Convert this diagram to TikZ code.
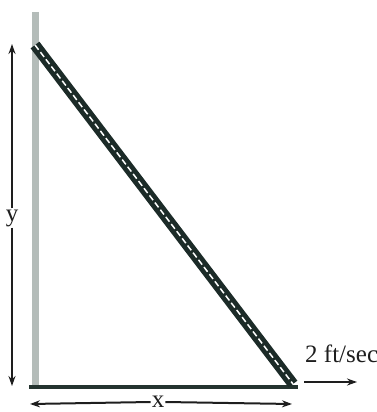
\documentclass[tikz,border=0pt]{standalone}
\usepackage{fontspec}
\setmainfont{Liberation Serif}
\usetikzlibrary{arrows.meta, positioning}
\definecolor{LadderDark}{HTML}{1C2B28}
\definecolor{WallGray}{HTML}{B4BCB9}
\definecolor{GroundDark}{HTML}{24332F}
\definecolor{ArrowDark}{HTML}{1E1E1E}

\begin{document}
\begin{tikzpicture}[x=1pt, y=-1pt,
    wall/.style={WallGray, line width=7pt},
    ground/.style={GroundDark, line width=4.5pt},
    ladder/.style={LadderDark, line width=11pt},
    rung/.style={white, line width=1.5pt, dash pattern=on 6pt off 3pt},
    dim/.style={ArrowDark, line width=2pt, -{Stealth[length=10pt, width=7pt]}},
    lbl/.style={font=\fontsize{25}{27}\selectfont, text=ArrowDark, inner sep=1pt}
]
\useasboundingbox (0,0) rectangle (377,412);

% === Wall and ground ===
\coordinate (walltop) at (35, 12);
\coordinate (corner) at (35, 387);
\coordinate (groundend) at (298, 387);
\draw[wall] (walltop) -- (corner);
\draw[ground] (29, 387) -- (groundend);

% === Ladder ===
\coordinate (top) at (35, 45);
\coordinate (foot) at (293, 384);
\draw[ladder] (top) -- (foot);
\draw[rung] (top) -- (foot);

% === Height y ===
\node[lbl] (ylab) at (12, 218) {y};
\coordinate (ytop) at (12, 44);
\coordinate (ybot) at (12, 386);
\draw[dim] (ylab.north) -- (ytop);
\draw[dim] (ylab.south) -- (ybot);

% === Distance x ===
\node[lbl] (xlab) at (158, 402) {x};
\coordinate (xleft) at (30, 404);
\coordinate (xright) at (292, 404);
\draw[dim] (xlab.west) -- (xleft);
\draw[dim] (xlab.east) -- (xright);

% === Speed ===
\node[lbl, anchor=south west] (speed) at (304, 364) {2 ft/sec};
\coordinate (vstart) at (304, 382);
\coordinate (vend) at (357, 382);
\draw[dim] (vstart) -- (vend);
\end{tikzpicture}
\end{document}
